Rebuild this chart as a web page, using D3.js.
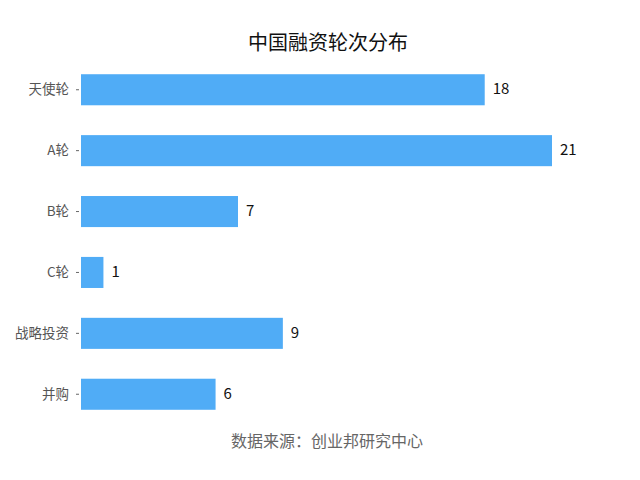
<!DOCTYPE html>
<html>
<head>
<meta charset="utf-8">
<script src="https://cdn.jsdelivr.net/npm/d3@7"></script>
<style>
  body { margin: 0; background: #fff; }
  svg text { font-family: "Noto Sans CJK SC", "Noto Sans", sans-serif; }
</style>
</head>
<body>
<svg width="640" height="480"></svg>
<script>
const categories = ['天使轮', 'A轮', 'B轮', 'C轮', '战略投资', '并购'];
const values = [18, 21, 7, 1, 9, 6];
const title = '中国融资轮次分布';
const source = '数据来源：创业邦研究中心';

const svg = d3.select('svg');
const margin = { top: 59, left: 81, right: 88, bottom: 55 };
const width = 640;
const height = 480;

const x = d3.scaleLinear()
    .domain([0, 21])
    .range([margin.left, width - margin.right]);

const y = d3.scaleBand()
    .domain(categories)
    .range([margin.top, height - margin.bottom])
    .paddingInner(0.49)
    .paddingOuter(0.25);

svg.append('text')
    .attr('x', 328)
    .attr('y', 50)
    .attr('text-anchor', 'middle')
    .attr('font-size', 20)
    .attr('fill', '#111')
    .text(title);

// y axis: labels and short ticks only
const yAxis = svg.append('g')
    .attr('transform', `translate(${margin.left - 2},0)`)
    .call(d3.axisLeft(y).tickSize(3).tickPadding(7));
yAxis.select('.domain').remove();
yAxis.selectAll('line').attr('stroke', '#666');
yAxis.selectAll('text')
    .attr('font-size', 13.5)
    .attr('fill', '#555')
    .style('font-family', '"Noto Sans CJK SC", sans-serif');

svg.append('g')
    .selectAll('rect')
    .data(values)
    .enter().append('rect')
    .attr('x', x(0))
    .attr('y', (d, i) => y(categories[i]))
    .attr('width', d => x(d) - x(0))
    .attr('height', y.bandwidth())
    .attr('fill', '#50acf6');

svg.append('g')
    .selectAll('text')
    .data(values)
    .enter().append('text')
    .attr('x', d => x(d) + 8)
    .attr('y', (d, i) => y(categories[i]) + y.bandwidth() / 2)
    .attr('dy', '0.3em')
    .attr('font-size', 15)
    .attr('fill', '#111')
    .text(d => d);

svg.append('text')
    .attr('x', 327)
    .attr('y', 447)
    .attr('text-anchor', 'middle')
    .attr('font-size', 16)
    .attr('fill', '#666')
    .text(source);
</script>
</body>
</html>
